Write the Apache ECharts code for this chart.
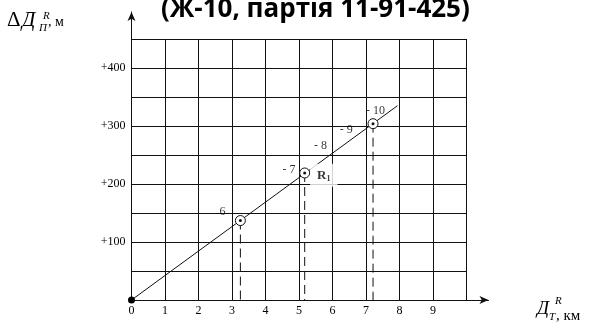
<!DOCTYPE html>
<html>
<head>
<meta charset="utf-8">
<script src="https://cdn.jsdelivr.net/npm/echarts@6/dist/echarts.min.js"></script>
<style>
  html, body { margin: 0; padding: 0; background: #fff; }
  #chart { width: 593px; height: 324px; }
</style>
</head>
<body>
<div id="chart"></div>
<script>
// Range correction ΔД_П^R (m) plotted against range Д_T^R (km)
const titleText = '(Ж-10, партія 11-91-425)';
const kmTicks = [0, 1, 2, 3, 4, 5, 6, 7, 8, 9];
const mTicks = [100, 200, 300, 400];

// Straight correction line drawn from the origin
const lineKm = [0, 7.94];
const lineM = [0, 335];

// Measured points (ringed) with their numbers
const pointNames = ['6', '7', '10'];
const pointKm = [3.25, 5.17, 7.21];
const pointM = [137, 219, 304];

// Point numbering written along the line
const noteText = ['6', '- 7', '- 8', '- 9', '- 10'];
const noteKm = [2.72, 4.70, 5.64, 6.41, 7.28];
const noteM = [152, 224, 265, 294, 326];

// Reference mark R1
const markKm = [5.74];
const markM = [215];

const serif = '"Liberation Serif", "DejaVu Serif", serif';
const ink = '#111';

const chart = echarts.init(document.getElementById('chart'), null, { renderer: 'canvas' });

const pair = (xs, ys) => xs.map((x, i) => [x, ys[i]]);

const dropSeries = pointKm.map((km, i) => ({
  type: 'line',
  xAxisIndex: 0, yAxisIndex: 0,
  data: [[km, pointM[i]], [km, 0]],
  symbol: 'none',
  silent: true,
  lineStyle: { color: ink, width: 1, type: [9, 5] },
  z: 3
}));

const option = {
  animation: false,
  backgroundColor: '#fff',
  title: {
    text: titleText,
    left: 161,
    top: -3,
    padding: 0,
    textStyle: {
      fontFamily: '"Open Sans", "Noto Sans", sans-serif',
      fontWeight: 'bold',
      fontSize: 26,
      color: '#000'
    }
  },
  grid: [
    { left: 131.5, top: 39, width: 335, height: 261, outerBoundsMode: 'none' },
    { left: 131.5, top: 12, width: 357, height: 288, outerBoundsMode: 'none' }
  ],
  xAxis: [
    {
      type: 'value', gridIndex: 0, min: 0, max: 10, interval: 1,
      axisLine: { show: false },
      axisTick: { show: false },
      splitLine: { show: true, lineStyle: { color: ink, width: 1 } },
      axisLabel: {
        margin: 5,
        fontFamily: serif, fontSize: 12, color: '#000',
        formatter: v => (kmTicks.includes(v) ? String(v) : '')
      }
    },
    {
      type: 'value', gridIndex: 1, min: 0, max: 357 / 33.5,
      axisLine: { show: true, symbol: ['none', 'arrow'], symbolSize: [6, 9], lineStyle: { color: ink, width: 1 } },
      axisTick: { show: false }, axisLabel: { show: false }, splitLine: { show: false }
    }
  ],
  yAxis: [
    {
      type: 'value', gridIndex: 0, min: 0, max: 450, interval: 50,
      axisLine: { show: false },
      axisTick: { show: false },
      splitLine: { show: true, lineStyle: { color: ink, width: 1 } },
      axisLabel: {
        margin: 6,
        fontFamily: serif, fontSize: 12, color: '#000',
        formatter: v => (mTicks.includes(v) ? '+' + v : '')
      }
    },
    {
      type: 'value', gridIndex: 1, min: 0, max: 288 / 0.58,
      axisLine: { show: true, symbol: ['none', 'arrow'], symbolSize: [6, 9], lineStyle: { color: ink, width: 1 } },
      axisTick: { show: false }, axisLabel: { show: false }, splitLine: { show: false }
    }
  ],
  series: [
    {
      type: 'line', name: 'correction',
      xAxisIndex: 0, yAxisIndex: 0,
      data: pair(lineKm, lineM),
      symbol: 'none',
      lineStyle: { color: ink, width: 1 },
      z: 4
    },
    ...dropSeries,
    {
      type: 'scatter', name: 'points',
      xAxisIndex: 0, yAxisIndex: 0,
      data: pointKm.map((km, i) => ({ name: pointNames[i], value: [km, pointM[i]] })),
      symbol: 'circle', symbolSize: 10,
      itemStyle: { color: '#fff', borderColor: ink, borderWidth: 1, opacity: 1 },
      z: 5
    },
    {
      type: 'scatter', name: 'point centres',
      xAxisIndex: 0, yAxisIndex: 0,
      data: pair(pointKm, pointM),
      symbol: 'circle', symbolSize: 3,
      itemStyle: { color: ink, opacity: 1 },
      z: 6
    },
    {
      type: 'scatter', name: 'origin',
      xAxisIndex: 0, yAxisIndex: 0,
      data: [[lineKm[0], lineM[0]]],
      symbol: 'circle', symbolSize: 7,
      itemStyle: { color: '#000', opacity: 1 },
      z: 6
    },
    {
      type: 'scatter', name: 'numbers',
      xAxisIndex: 0, yAxisIndex: 0,
      data: pair(noteKm, noteM),
      symbolSize: 0,
      label: {
        show: true, position: 'inside',
        formatter: p => noteText[p.dataIndex],
        fontFamily: serif, fontSize: 12, color: '#000'
      },
      labelLayout: { hideOverlap: false },
      z: 7
    },
    {
      type: 'scatter', name: 'mark',
      xAxisIndex: 0, yAxisIndex: 0,
      data: pair(markKm, markM),
      symbolSize: 0,
      label: {
        show: true, position: 'inside',
        formatter: '{r|R}{s|1}',
        backgroundColor: '#fff',
        padding: [5, 7, 4, 7],
        rich: {
          r: { fontFamily: serif, fontWeight: 'bold', fontSize: 13, color: '#000' },
          s: { fontFamily: serif, fontWeight: 'bold', fontSize: 8, color: '#000', padding: [6, 0, 0, 0] }
        }
      },
      z: 7
    }
  ],
  graphic: [
    // vertical axis name: ΔД with sub П and sup R, then ", м"
    { type: 'text', x: 7, y: 20, style: { text: 'Δ', font: '21px ' + serif, fill: '#000', verticalAlign: 'middle' } },
    { type: 'text', x: 22, y: 20, style: { text: 'Д', font: 'italic 21px ' + serif, fill: '#000', verticalAlign: 'middle' } },
    { type: 'text', x: 43, y: 16, style: { text: 'R', font: 'italic 11px ' + serif, fill: '#000', verticalAlign: 'middle' } },
    { type: 'text', x: 39, y: 28, style: { text: 'П', font: 'italic 11px ' + serif, fill: '#000', verticalAlign: 'middle' } },
    { type: 'text', x: 48, y: 22, style: { text: ', м', font: '14px ' + serif, fill: '#000', verticalAlign: 'middle' } },
    // horizontal axis name: Д with sub T and sup R, then ", км"
    { type: 'text', x: 537, y: 309, style: { text: 'Д', font: 'italic 19px ' + serif, fill: '#000', verticalAlign: 'middle' } },
    { type: 'text', x: 555, y: 301, style: { text: 'R', font: 'italic 11px ' + serif, fill: '#000', verticalAlign: 'middle' } },
    { type: 'text', x: 549, y: 317, style: { text: 'T', font: 'italic 11px ' + serif, fill: '#000', verticalAlign: 'middle' } },
    { type: 'text', x: 556, y: 316, style: { text: ', км', font: '15px ' + serif, fill: '#000', verticalAlign: 'middle' } }
  ]
};

chart.setOption(option);
</script>
</body>
</html>
